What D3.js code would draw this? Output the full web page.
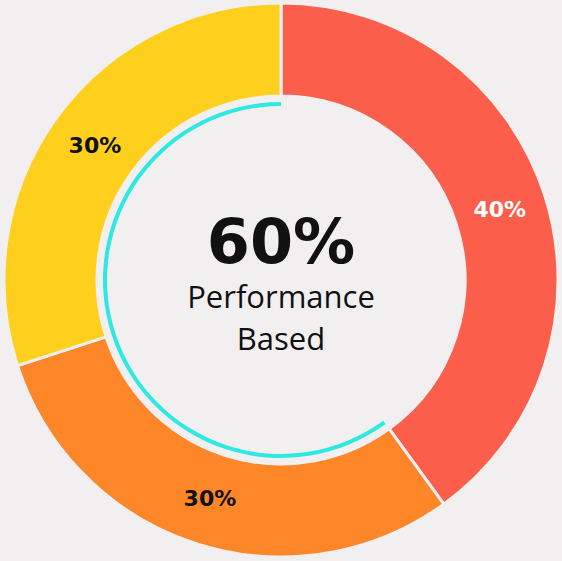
<!DOCTYPE html>
<html><head><meta charset="utf-8">
<script src="https://cdn.jsdelivr.net/npm/d3@7"></script>
<style>body{margin:0;background:#f1eff0;}</style>
</head><body>
<svg id="chart" width="562" height="561"></svg>
<script>
var names = ['A', 'B', 'C'];
var values = [40, 30, 30];
var colors = ['#fc5e4c', '#fd8628', '#fecf1d'];
var labelColors = ['#ffffff', '#111111', '#111111'];
var centerValue = 60;
var centerLines = ['Performance', 'Based'];

var svg = d3.select('#chart'),
	cx = 281, cy = 280, outer = 277, inner = 184;

var g = svg.append('g').attr('transform', 'translate(' + cx + ',' + cy + ')');
var pie = d3.pie().sort(null)(values);
var arc = d3.arc().innerRadius(inner).outerRadius(outer);
var labelArc = d3.arc().innerRadius(230).outerRadius(230);

g.selectAll('path.slice').data(pie).enter().append('path')
	.attr('class', 'slice')
	.attr('d', arc)
	.style('fill', function (d, i) { return colors[i]; })
	.style('stroke', '#f1eff0')
	.style('stroke-width', 3);

g.selectAll('text.lbl').data(pie).enter().append('text')
	.attr('class', 'lbl')
	.attr('transform', function (d) { return 'translate(' + labelArc.centroid(d) + ')'; })
	.attr('text-anchor', 'middle')
	.attr('dy', '.35em')
	.style('font', 'bold 22px "DejaVu Sans", sans-serif')
	.style('fill', function (d, i) { return labelColors[i]; })
	.text(function (d) { return d.data + '%'; });

// progress ring for the centre value
var ring = d3.arc().innerRadius(174).outerRadius(178)
	.startAngle(2 * Math.PI * (1 - centerValue / 100)).endAngle(2 * Math.PI);
g.append('path').attr('d', ring).style('fill', '#2ee8e2');

g.append('text').attr('text-anchor', 'middle').attr('y', -17)
	.style('font', 'bold 62px "DejaVu Sans", sans-serif').style('fill', '#111')
	.text(centerValue + '%');
centerLines.forEach(function (t, i) {
	g.append('text').attr('text-anchor', 'middle').attr('y', 28 + i * 42)
		.style('font', '31px "Open Sans", sans-serif').style('fill', '#111').text(t);
});
</script>
</body></html>
